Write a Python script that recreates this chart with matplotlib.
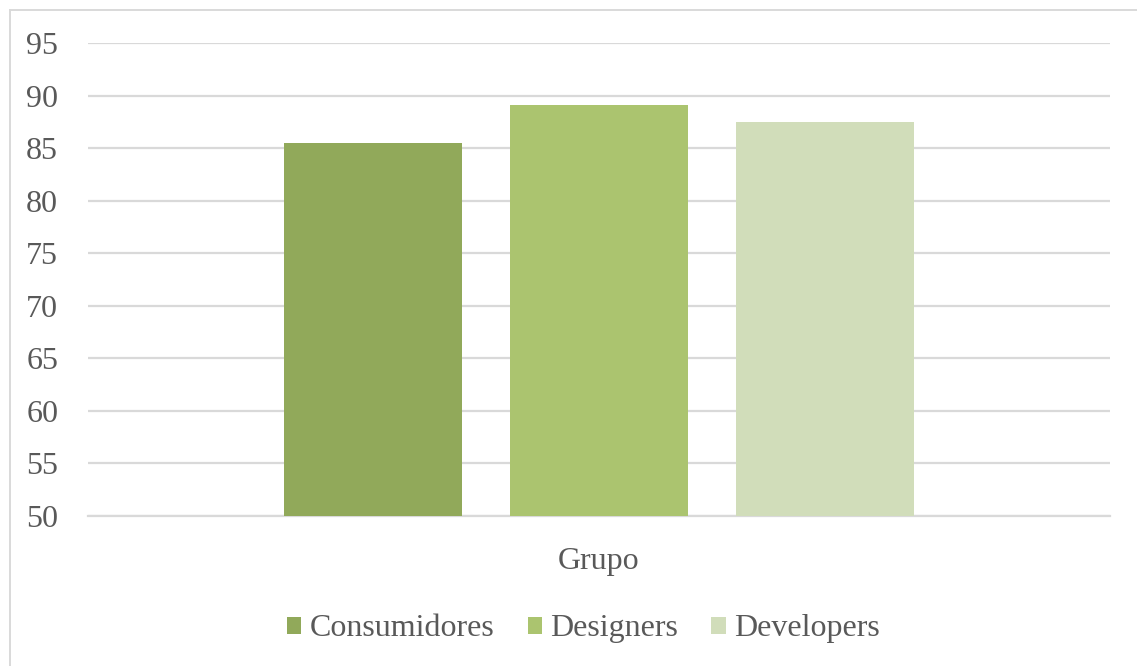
import matplotlib.pyplot as plt
from matplotlib.lines import Line2D

# data
groups = ["Consumidores", "Designers", "Developers"]
values = [85.5, 89.1, 87.5]
colors = ["#91a95a", "#abc46f", "#d1ddba"]
offsets = [-0.2216, 0.0, 0.2211]
category = "Grupo"
yticks = [50, 55, 60, 65, 70, 75, 80, 85, 90, 95]

plt.rcParams['font.family'] = ['Liberation Serif', 'DejaVu Serif']
txt = "#595959"

fig = plt.figure(figsize=(11.37, 6.66), dpi=100)
ax = fig.add_axes([0.0774, 0.2252, 0.8989, 0.7102])

for g, v, c, o in zip(groups, values, colors, offsets):
    ax.bar(o, v - 50, bottom=50, width=0.1742, color=c, label=g, zorder=3)

ax.set_xlim(-0.5, 0.5)
ax.set_ylim(50, 95)
ax.set_yticks(yticks)
ax.yaxis.grid(True, color="#d9d9d9", linewidth=1.6, zorder=0)
ax.tick_params(axis='y', length=0, pad=21.5, labelsize=23, labelcolor=txt)
ax.set_xticks([0])
ax.set_xticklabels([category])
ax.tick_params(axis='x', length=0, pad=22, labelsize=23, labelcolor=txt)
for s in ["top", "right", "left"]:
    ax.spines[s].set_visible(False)
ax.spines["bottom"].set_color("#d9d9d9")
ax.spines["bottom"].set_linewidth(1.6)

fig.legend(loc="center", bbox_to_anchor=(0.513, 0.0556), ncol=3, frameon=False,
           fontsize=23, labelcolor=txt, handlelength=0.45, handleheight=0.45,
           handletextpad=0.25, columnspacing=1.05)

# chart area border: only left and top edges show
bx, by = 9.5 / 1137, 1 - 9.5 / 666
fig.lines.append(Line2D([bx, bx], [0, by], transform=fig.transFigure, color="#d9d9d9", linewidth=1.4))
fig.lines.append(Line2D([bx, 1], [by, by], transform=fig.transFigure, color="#d9d9d9", linewidth=1.4))

fig.savefig("out.png", dpi=100, facecolor="white")
